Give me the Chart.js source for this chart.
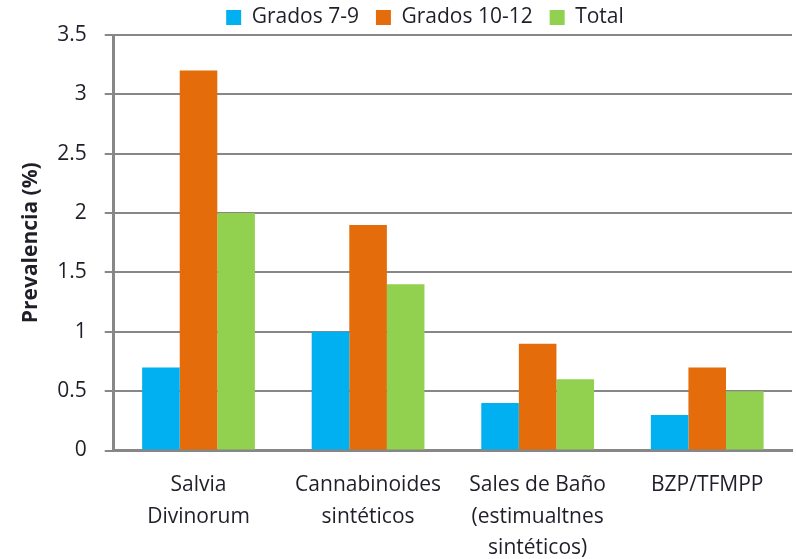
<!DOCTYPE html>
<html>
<head>
<meta charset="utf-8">
<script src="https://cdn.jsdelivr.net/npm/chart.js@4"></script>
<style>
  html, body { margin: 0; padding: 0; background: #fff; }
  #wrap { width: 796px; height: 559px; }
</style>
</head>
<body>
<div id="wrap"><canvas id="bar-chart"></canvas></div>
<script>
// categorias y valores
var categorias = [
    ['Salvia', 'Divinorum'],
    ['Cannabinoides', 'sintéticos'],
    ['Sales de Baño', '(estimualtnes', 'sintéticos)'],
    ['BZP/TFMPP']
];
var grados79 = [0.7, 1.0, 0.4, 0.3];
var grados1012 = [3.2, 1.9, 0.9, 0.7];
var total = [2.0, 1.4, 0.6, 0.5];

var gris = '#878787';
var texto = '#1f1f2a';
var fuente = '"Open Sans", Lato, sans-serif';

// la leyenda del original esta desplazada a la derecha y muy pegada al grafico
var moverLeyenda = {
    id: 'moverLeyenda',
    afterLayout: function (chart) {
        chart.legend.left += 20;
        chart.legend.right += 20;
        chart.legend.top -= 10;
        chart.legend.bottom -= 10;
    }
};

var ctx = document.getElementById('bar-chart');
var chart = new Chart(ctx, {
    type: 'bar',
    data: {
        labels: categorias,
        datasets: [{
            label: 'Grados 7-9',
            backgroundColor: '#00B0F0',
            data: grados79
        }, {
            label: 'Grados 10-12',
            backgroundColor: '#E46C0A',
            data: grados1012
        }, {
            label: 'Total',
            backgroundColor: '#92D050',
            data: total
        }]
    },
    options: {
        responsive: true,
        maintainAspectRatio: false,
        animation: false,
        layout: { padding: { left: 18, right: 4, top: 0, bottom: -24 } },
        datasets: {
            bar: { categoryPercentage: 0.665, barPercentage: 1.0 }
        },
        plugins: {
            legend: {
                position: 'top',
                maxHeight: 35,
                labels: {
                    boxWidth: 15,
                    boxHeight: 15,
                    padding: 17,
                    color: texto,
                    font: { family: fuente, size: 21 }
                }
            },
            tooltip: { enabled: false }
        },
        scales: {
            x: {
                grid: { display: false, drawTicks: false },
                border: { display: true, color: gris, width: 3 },
                ticks: {
                    maxRotation: 0,
                    autoSkip: false,
                    padding: 19,
                    color: texto,
                    font: { family: fuente, size: 21, lineHeight: 1.5 }
                }
            },
            y: {
                min: 0,
                max: 3.5,
                ticks: {
                    stepSize: 0.5,
                    padding: 18,
                    color: texto,
                    font: { family: fuente, size: 21 },
                    callback: function (v) { return v; }
                },
                grid: { color: gris, lineWidth: 2, tickLength: 9, tickColor: gris },
                border: { display: true, color: gris, width: 3 },
                title: {
                    display: true,
                    text: 'Prevalencia (%)',
                    color: texto,
                    padding: { top: 0, bottom: -4 },
                    font: { family: fuente, size: 21, weight: 'bold' }
                }
            }
        }
    },
    plugins: [moverLeyenda]
});
</script>
</body>
</html>
